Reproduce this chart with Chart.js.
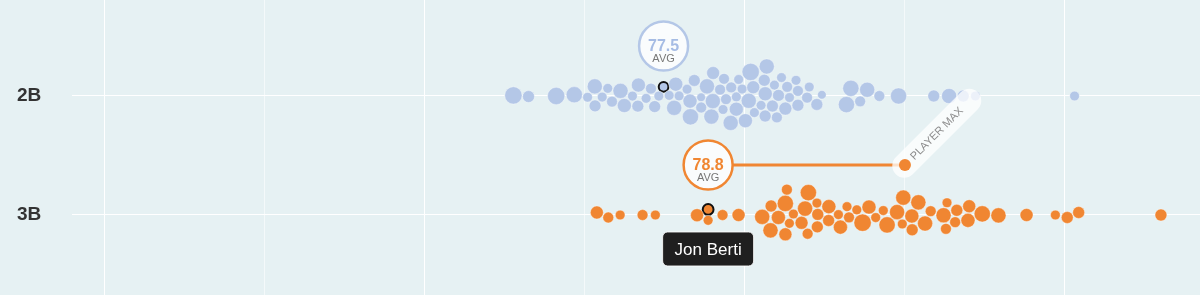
<!DOCTYPE html>
<html>
<head>
<meta charset="utf-8">
<script src="https://cdn.jsdelivr.net/npm/chart.js@4.4.0/dist/chart.umd.min.js"></script>
<style>
  html, body { margin: 0; padding: 0; background: #e6f1f3; }
  #wrap { width: 1200px; height: 295px; }
</style>
</head>
<body>
<div id="wrap"><canvas id="chart"></canvas></div>
<script>
const positions = ['2B', '3B'];
const xTicks = [60, 65, 70, 75, 80, 85, 90];

// arm strength (mph) and number of throws, one entry per player
const mph2B = [
  72.8, 73.2, 74.1, 74.7, 75.1, 75.3, 75.3, 75.6, 75.7, 75.8,
  76.1, 76.3, 76.5, 76.7, 76.6, 76.9, 77.0, 77.2, 77.3, 77.7,
  77.8, 77.8, 78.0, 78.2, 78.3, 78.4, 78.4, 78.6, 78.7, 78.8,
  78.9, 79.0, 79.0, 79.2, 79.3, 79.3, 79.4, 79.6, 79.7, 79.7,
  79.8, 79.9, 80.0, 80.0, 80.1, 80.2, 80.3, 80.4, 80.4, 80.6,
  80.6, 80.6, 80.7, 80.8, 80.9, 80.9, 81.0, 81.1, 81.3, 81.3,
  81.3, 81.6, 81.6, 81.6, 81.9, 82.0, 82.2, 82.4, 83.2, 83.3,
  83.6, 83.8, 84.2, 84.8, 85.9, 86.4, 86.8, 87.2, 90.3
];
const throws2B = [
  256, 121, 256, 225, 81, 121, 196, 81, 81, 100,
  196, 169, 81, 169, 121, 81, 100, 121, 81, 81,
  196, 169, 81, 81, 225, 121, 169, 64, 100, 196,
  196, 144, 196, 100, 81, 100, 100, 100, 196, 81,
  169, 81, 169, 81, 196, 256, 81, 144, 81, 121,
  169, 196, 121, 81, 121, 121, 100, 81, 144, 100,
  81, 81, 121, 100, 100, 81, 121, 64, 225, 225,
  100, 196, 100, 225, 121, 196, 121, 81, 81
];
const mph3B = [
  75.4, 75.7, 76.1, 76.8, 77.2, 78.6, 78.8, 79.3, 79.8, 80.6,
  80.8, 80.8, 81.1, 81.3, 81.3, 81.3, 81.4, 81.6, 81.7, 81.8,
  82.0, 82.0, 82.3, 82.2, 82.3, 82.5, 82.6, 82.9, 83.0, 83.2,
  83.2, 83.5, 83.7, 83.9, 84.1, 84.3, 84.4, 84.8, 85.0, 85.0,
  85.2, 85.3, 85.5, 85.3, 85.8, 86.3, 86.6, 86.3, 86.6, 87.0,
  86.3, 86.9, 87.4, 87.9, 88.8, 89.7, 90.1, 90.4, 93.0
];
const throws3B = [
  144, 100, 81, 100, 81, 144, 81, 100, 144, 196,
  196, 121, 169, 100, 144, 225, 81, 81, 144, 196,
  100, 225, 81, 121, 121, 169, 121, 81, 169, 81,
  100, 81, 256, 169, 81, 81, 225, 196, 81, 196,
  121, 196, 196, 169, 100, 81, 100, 100, 121, 144,
  196, 169, 225, 196, 144, 81, 121, 121, 121
];

// highlighted player
const playerName = 'Jon Berti';
const playerAvg = [77.5, 78.8];
const playerThrows = [81, 100];
const playerMax = [null, 85.0];

const colors = ['#b4c7e7', '#f08632'];
const textColors = ['#a6bce4', '#f08632'];
const FONT = '"Liberation Sans", Arial, Helvetica, sans-serif';

const radius = t => Math.sqrt(t) * 0.54;
const catY = i => 2 - i;

const mphLists = [mph2B, mph3B];
const throwLists = [throws2B, throws3B];

const datasets = [];
positions.forEach((pos, i) => {
  datasets.push({
    label: pos,
    data: mphLists[i].map((v, k) => ({ x: v, y: catY(i), v: v, t: throwLists[i][k] })),
    backgroundColor: colors[i],
    borderColor: 'rgba(255,255,255,0.35)',
    borderWidth: 1,
    pointRadius: c => radius(c.raw.t),
    pointHoverRadius: c => radius(c.raw.t)
  });
});
positions.forEach((pos, i) => {
  datasets.push({
    label: playerName + ' ' + pos,
    data: [{ x: playerAvg[i], y: catY(i), v: playerAvg[i], t: playerThrows[i], hl: true }],
    backgroundColor: colors[i],
    borderColor: '#111',
    borderWidth: 2,
    pointRadius: c => radius(c.raw.t),
    pointHoverRadius: c => radius(c.raw.t)
  });
});

// small relaxation: pull to own x and to the row line, push overlapping dots apart
function swarm(nodes, pad) {
  nodes.forEach((n, k) => {
    n.x = n.tx;
    n.y = n.d.hl ? -3 : (k % 2 ? 1 : -1) * (1 + (k * 7) % 5) * 0.6;
  });
  for (let it = 0; it < 400; it++) {
    nodes.forEach(n => {
      n.x += (n.tx - n.x) * 0.25;
      n.y += (0 - n.y) * 0.04;
    });
    for (let pass = 0; pass < 3; pass++) {
      for (let a = 0; a < nodes.length; a++) {
        for (let b = a + 1; b < nodes.length; b++) {
          const p = nodes[a], q = nodes[b];
          const d = p.r + q.r + pad;
          let dx = q.x - p.x, dy = q.y - p.y;
          const dd = dx * dx + dy * dy;
          if (dd >= d * d) continue;
          const dist = Math.sqrt(dd) || 0.01;
          const m = (d - dist) / dist * 0.5;
          p.x -= dx * m; p.y -= dy * m;
          q.x += dx * m; q.y += dy * m;
        }
      }
    }
  }
}

function roundRect(ctx, x, y, w, h, r) {
  ctx.beginPath();
  ctx.moveTo(x + r, y);
  ctx.arcTo(x + w, y, x + w, y + h, r);
  ctx.arcTo(x + w, y + h, x, y + h, r);
  ctx.arcTo(x, y + h, x, y, r);
  ctx.arcTo(x, y, x + w, y, r);
  ctx.closePath();
}

const overlay = {
  id: 'overlay',
  afterDatasetsDraw(chart) {
    const { ctx, scales: { x, y } } = chart;
    positions.forEach((pos, i) => {
      const pt = chart.getDatasetMeta(positions.length + i).data[0];
      const base = y.getPixelForValue(catY(i));
      const bx = pt.x;
      const by = base - 50;
      const br = 24.5;

      // line to player max
      if (playerMax[i] != null) {
        const mx = x.getPixelForValue(playerMax[i]);
        ctx.save();
        ctx.strokeStyle = colors[i];
        ctx.lineWidth = 3;
        ctx.beginPath();
        ctx.moveTo(bx + br, by);
        ctx.lineTo(mx, by);
        ctx.stroke();
        // label pill
        ctx.translate(mx, by);
        ctx.rotate(-Math.PI / 4);
        ctx.fillStyle = 'rgba(255,255,255,0.75)';
        roundRect(ctx, -13, -12, 116, 24, 12);
        ctx.fill();
        ctx.fillStyle = '#8c8c8c';
        ctx.font = '11px ' + FONT;
        ctx.textAlign = 'left';
        ctx.textBaseline = 'middle';
        ctx.fillText('PLAYER MAX', 10, 0.5);
        ctx.restore();
        ctx.save();
        ctx.fillStyle = colors[i];
        ctx.beginPath();
        ctx.arc(mx, by, 6, 0, Math.PI * 2);
        ctx.fill();
        ctx.restore();
      }

      // avg bubble
      ctx.save();
      ctx.beginPath();
      ctx.arc(bx, by, br, 0, Math.PI * 2);
      ctx.fillStyle = 'rgba(255,255,255,0.8)';
      ctx.fill();
      ctx.lineWidth = 2.5;
      ctx.strokeStyle = colors[i];
      ctx.stroke();
      ctx.textAlign = 'center';
      ctx.textBaseline = 'alphabetic';
      ctx.fillStyle = textColors[i];
      ctx.font = 'bold 16px ' + FONT;
      ctx.fillText(playerAvg[i].toFixed(1), bx, by + 5.5);
      ctx.fillStyle = '#777';
      ctx.font = '11px ' + FONT;
      ctx.fillText('AVG', bx, by + 16);
      ctx.restore();
    });

    // tooltip under the 3B row
    const tp = chart.getDatasetMeta(positions.length + 1).data[0];
    const tw = 91, th = 34, tx = tp.x - tw / 2, ty = y.getPixelForValue(catY(1)) + 17;
    ctx.save();
    roundRect(ctx, tx, ty, tw, th, 5);
    ctx.fillStyle = '#1f1f1f';
    ctx.fill();
    ctx.lineWidth = 1;
    ctx.strokeStyle = 'rgba(255,255,255,0.85)';
    ctx.stroke();
    ctx.fillStyle = '#fff';
    ctx.font = '17px ' + FONT;
    ctx.textAlign = 'center';
    ctx.textBaseline = 'middle';
    ctx.fillText(playerName, tp.x, ty + th / 2 + 1);
    ctx.restore();
  }
};

const noPad = s => { s.paddingTop = 0; s.paddingBottom = 0; s.paddingLeft = 0; s.paddingRight = 0; };

const chart = new Chart(document.getElementById('chart'), {
  type: 'scatter',
  data: { datasets },
  plugins: [overlay],
  options: {
    responsive: true,
    maintainAspectRatio: false,
    animation: false,
    events: [],
    layout: { autoPadding: false, padding: { left: 17, top: 0, right: 0, bottom: 0 } },
    plugins: { legend: { display: false }, tooltip: { enabled: false } },
    scales: {
      x: {
        type: 'linear',
        min: 58.97,
        max: 94.22,
        afterBuildTicks: s => { s.ticks = xTicks.map(v => ({ value: v })); },
        afterFit: s => { s.height = 0; noPad(s); },
        ticks: { display: false },
        border: { display: false },
        grid: {
          drawTicks: false,
          lineWidth: 1,
          color: c => (c.tick && c.tick.value % 10 === 0) ? 'rgba(255,255,255,1)' : 'rgba(255,255,255,0.55)'
        }
      },
      y: {
        type: 'linear',
        min: 0.3277,
        max: 2.8067,
        afterBuildTicks: s => { s.ticks = positions.map((p, i) => ({ value: catY(i) })); },
        afterFit: s => { s.width = 55; noPad(s); },
        ticks: {
          crossAlign: 'far',
          padding: 0,
          color: '#333',
          font: { family: FONT, size: 19, weight: 'bold' },
          callback: v => positions[2 - v]
        },
        border: { display: false },
        grid: { drawTicks: false, color: '#ffffff', lineWidth: 1 }
      }
    }
  }
});

// lay out each row as a swarm, in pixels, then store back as values
positions.forEach((pos, i) => {
  const xs = chart.scales.x, ys = chart.scales.y;
  const base = ys.getPixelForValue(catY(i));
  const nodes = [];
  chart.data.datasets[i].data.forEach(d => nodes.push({ d }));
  nodes.push({ d: chart.data.datasets[positions.length + i].data[0] });
  nodes.forEach(n => {
    n.tx = xs.getPixelForValue(n.d.v);
    n.r = radius(n.d.t);
  });
  nodes.sort((a, b) => a.tx - b.tx);
  swarm(nodes, 0.6);
  nodes.forEach(n => {
    n.d.x = xs.getValueForPixel(n.x);
    n.d.y = ys.getValueForPixel(base + n.y);
  });
});
chart.update('none');
</script>
</body>
</html>
